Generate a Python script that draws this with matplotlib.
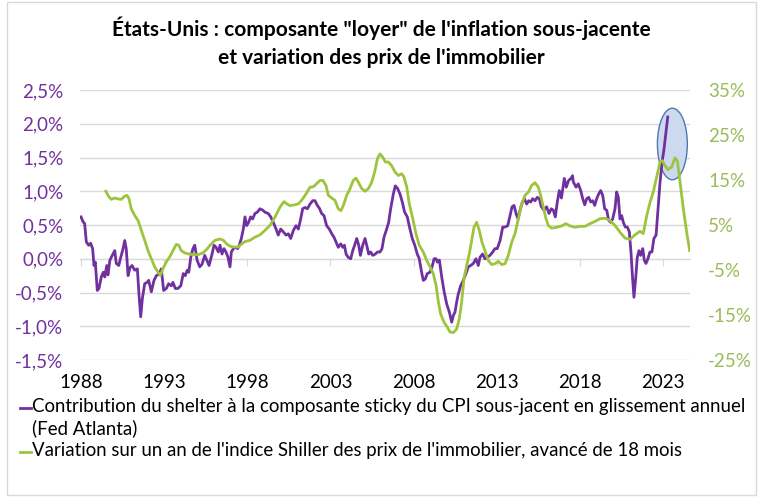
import matplotlib
matplotlib.use("Agg")
import matplotlib.pyplot as plt
from matplotlib.patches import Ellipse, Rectangle
from matplotlib.lines import Line2D
from matplotlib.ticker import FixedLocator, FixedFormatter

plt.rcParams['font.family'] = ['Lato', 'DejaVu Sans']

title = "États-Unis : composante \"loyer\" de l'inflation sous-jacente\net variation des prix de l'immobilier"
legend_labels = [
    "Contribution du shelter à la composante sticky du CPI sous-jacent en glissement annuel\n(Fed Atlanta)",
    "Variation sur un an de l'indice Shiller des prix de l'immobilier, avancé de 18 mois",
]
year_ticks = [1988, 1993, 1998, 2003, 2008, 2013, 2018, 2023]
left_ticks = [-1.5, -1.0, -0.5, 0.0, 0.5, 1.0, 1.5, 2.0, 2.5]
left_labels = ["-1,5%", "-1,0%", "-0,5%", "0,0%", "0,5%", "1,0%", "1,5%", "2,0%", "2,5%"]
right_ticks = [-25, -15, -5, 5, 15, 25, 35]
right_labels = ["-25%", "-15%", "-5%", "5%", "15%", "25%", "35%"]

# shelter contribution (% , left axis)
shelter_t = [1988.00, 1988.12, 1988.22, 1988.32, 1988.46, 1988.58, 1988.70, 1988.78, 1988.86, 1988.98,
             1989.08, 1989.22, 1989.34, 1989.43, 1989.55, 1989.62, 1989.74, 1989.88, 1990.03, 1990.12,
             1990.27, 1990.39, 1990.53, 1990.63, 1990.72, 1990.83, 1990.95, 1991.07, 1991.23, 1991.39,
             1991.49, 1991.59, 1991.69, 1991.83, 1991.97, 1992.07, 1992.23, 1992.39, 1992.53, 1992.69,
             1992.83, 1992.97, 1993.13, 1993.27, 1993.43, 1993.53, 1993.67, 1993.83, 1994.00, 1994.15,
             1994.27, 1994.39, 1994.48, 1994.60, 1994.73, 1994.84, 1994.98, 1995.14, 1995.28, 1995.44,
             1995.56, 1995.70, 1995.86, 1996.00, 1996.12, 1996.26, 1996.36, 1996.48, 1996.60, 1996.72,
             1996.84, 1996.96, 1997.04, 1997.16, 1997.30, 1997.42, 1997.52, 1997.64, 1997.76, 1997.86,
             1997.96, 1998.08, 1998.20, 1998.32, 1998.46, 1998.60, 1998.76, 1998.93, 1999.06, 1999.26,
             1999.41, 1999.56, 1999.73, 1999.86, 2000.01, 2000.16, 2000.33, 2000.47, 2000.61, 2000.77,
             2000.93, 2001.07, 2001.21, 2001.33, 2001.47, 2001.61, 2001.77, 2001.93, 2002.07, 2002.21,
             2002.33, 2002.47, 2002.61, 2002.77, 2002.93, 2003.08, 2003.21, 2003.33, 2003.47, 2003.62,
             2003.74, 2003.84, 2003.94, 2004.07, 2004.22, 2004.34, 2004.48, 2004.58, 2004.70, 2004.80,
             2004.94, 2005.08, 2005.18, 2005.30, 2005.42, 2005.54, 2005.70, 2005.82, 2005.98, 2006.10,
             2006.22, 2006.38, 2006.50, 2006.62, 2006.78, 2006.90, 2007.04, 2007.18, 2007.32, 2007.46,
             2007.62, 2007.78, 2007.92, 2008.07, 2008.22, 2008.34, 2008.46, 2008.58, 2008.70, 2008.82,
             2008.99, 2009.11, 2009.23, 2009.35, 2009.43, 2009.55, 2009.69, 2009.83, 2009.99, 2010.15,
             2010.29, 2010.39, 2010.49, 2010.59, 2010.69, 2010.83, 2010.99, 2011.15, 2011.29, 2011.43,
             2011.59, 2011.75, 2011.89, 2011.99, 2012.15, 2012.29, 2012.43, 2012.59, 2012.76, 2012.89,
             2013.03, 2013.20, 2013.36, 2013.50, 2013.66, 2013.80, 2013.92, 2014.04, 2014.16, 2014.28,
             2014.40, 2014.54, 2014.66, 2014.80, 2014.92, 2015.04, 2015.16, 2015.30, 2015.44, 2015.56,
             2015.68, 2015.84, 2016.00, 2016.14, 2016.28, 2016.40, 2016.52, 2016.64, 2016.76, 2016.89,
             2017.06, 2017.18, 2017.32, 2017.46, 2017.56, 2017.60, 2017.77, 2017.90, 2018.05, 2018.17,
             2018.29, 2018.41, 2018.53, 2018.65, 2018.77, 2018.89, 2019.01, 2019.13, 2019.25, 2019.37,
             2019.49, 2019.61, 2019.73, 2019.85, 2019.97, 2020.11, 2020.21, 2020.31, 2020.41, 2020.51,
             2020.61, 2020.73, 2020.85, 2020.97, 2021.07, 2021.17, 2021.25, 2021.35, 2021.45, 2021.55,
             2021.65, 2021.78, 2021.87, 2021.97, 2022.09, 2022.21, 2022.33, 2022.45, 2022.58, 2022.70,
             2022.82, 2022.94, 2023.06, 2023.18, 2023.28]
shelter_v = [0.62, 0.55, 0.52, 0.25, 0.20, 0.23, 0.15, -0.10, -0.05, -0.47,
             -0.44, -0.27, -0.20, -0.27, -0.10, -0.24, -0.02, 0.05, 0.12, -0.07,
             -0.10, 0.02, 0.15, 0.27, 0.15, -0.25, -0.13, -0.10, -0.17, -0.15,
             -0.54, -0.86, -0.59, -0.37, -0.35, -0.32, -0.49, -0.32, -0.25, -0.23,
             -0.15, -0.47, -0.44, -0.37, -0.40, -0.35, -0.44, -0.44, -0.40, -0.22,
             -0.25, -0.17, -0.20, 0.02, 0.15, 0.20, -0.02, -0.12, -0.08, 0.05,
             -0.02, -0.10, 0.05, 0.20, 0.17, 0.10, 0.20, 0.07, 0.15, 0.10,
             0.02, -0.12, 0.10, 0.15, 0.17, 0.15, 0.20, 0.30, 0.44, 0.62,
             0.49, 0.54, 0.62, 0.59, 0.67, 0.69, 0.74, 0.72, 0.69, 0.67,
             0.62, 0.54, 0.44, 0.35, 0.44, 0.40, 0.35, 0.37, 0.30, 0.42,
             0.49, 0.44, 0.59, 0.74, 0.76, 0.74, 0.81, 0.86, 0.86, 0.79,
             0.75, 0.67, 0.64, 0.49, 0.44, 0.37, 0.32, 0.25, 0.17, 0.22,
             0.17, 0.20, 0.07, 0.02, 0.00, 0.12, 0.22, 0.30, 0.20, 0.05,
             0.20, 0.30, 0.20, 0.07, 0.10, 0.05, 0.07, 0.10, 0.10, 0.15,
             0.32, 0.44, 0.54, 0.74, 0.96, 1.08, 1.04, 0.96, 0.84, 0.69,
             0.62, 0.44, 0.30, 0.20, 0.07, 0.00, -0.17, -0.32, -0.30, -0.22,
             -0.20, -0.12, 0.00, 0.00, -0.05, -0.02, -0.27, -0.48, -0.67, -0.79,
             -0.94, -0.84, -0.79, -0.64, -0.52, -0.40, -0.32, -0.22, -0.12, -0.10,
             -0.07, 0.00, -0.10, 0.02, 0.07, 0.00, 0.02, 0.05, 0.10, 0.15,
             0.15, 0.27, 0.47, 0.47, 0.49, 0.64, 0.77, 0.79, 0.67, 0.59,
             0.72, 0.84, 0.89, 0.81, 0.86, 0.84, 0.89, 0.86, 0.91, 0.89,
             0.77, 0.72, 0.77, 0.67, 0.74, 0.72, 0.62, 0.84, 1.01, 0.90,
             1.19, 1.06, 1.16, 1.19, 1.23, 1.14, 1.06, 1.11, 1.01, 0.89,
             0.80, 0.89, 0.91, 0.84, 0.86, 0.79, 0.89, 0.96, 1.01, 0.94,
             0.74, 0.72, 0.57, 0.54, 0.59, 0.74, 0.99, 0.91, 0.59, 0.64,
             0.54, 0.47, 0.47, 0.40, 0.10, -0.30, -0.57, -0.30, 0.02, 0.12,
             0.05, 0.15, -0.02, -0.07, 0.00, 0.10, 0.10, 0.30, 0.35, 0.74,
             1.14, 1.43, 1.63, 1.88, 2.10]

# Shiller home price index yoy, shifted 18 months (% , right axis)
shiller_t = [1989.49, 1989.67, 1989.82, 1990.03, 1990.22, 1990.42, 1990.63, 1990.77, 1990.89, 1991.02,
             1991.23, 1991.43, 1991.63, 1991.83, 1992.03, 1992.23, 1992.43, 1992.63, 1992.77, 1992.93,
             1993.13, 1993.33, 1993.53, 1993.73, 1993.88, 1994.03, 1994.24, 1994.43, 1994.73, 1995.04,
             1995.34, 1995.59, 1995.76, 1996.06, 1996.36, 1996.56, 1996.76, 1996.96, 1997.16, 1997.46,
             1997.66, 1997.86, 1998.16, 1998.46, 1998.76, 1999.06, 1999.36, 1999.67, 1999.97, 2000.21,
             2000.37, 2000.57, 2000.87, 2001.07, 2001.27, 2001.53, 2001.77, 2001.97, 2002.17, 2002.37,
             2002.55, 2002.73, 2002.87, 2003.07, 2003.27, 2003.47, 2003.63, 2003.77, 2003.98, 2004.18,
             2004.37, 2004.54, 2004.68, 2004.88, 2005.08, 2005.28, 2005.48, 2005.68, 2005.82, 2005.98,
             2006.14, 2006.30, 2006.48, 2006.68, 2006.88, 2007.08, 2007.28, 2007.42, 2007.59, 2007.74,
             2007.95, 2008.14, 2008.34, 2008.58, 2008.79, 2008.99, 2009.18, 2009.35, 2009.49, 2009.63,
             2009.83, 2010.01, 2010.19, 2010.39, 2010.59, 2010.75, 2010.89, 2011.03, 2011.19, 2011.35,
             2011.49, 2011.63, 2011.79, 2011.95, 2012.11, 2012.29, 2012.49, 2012.70, 2012.89, 2013.09,
             2013.30, 2013.50, 2013.69, 2013.90, 2014.10, 2014.30, 2014.50, 2014.70, 2014.90, 2015.10,
             2015.30, 2015.50, 2015.64, 2015.80, 2015.96, 2016.10, 2016.30, 2016.61, 2016.91, 2017.16,
             2017.40, 2017.71, 2018.01, 2018.31, 2018.61, 2018.91, 2019.21, 2019.51, 2019.81, 2020.11,
             2020.41, 2020.71, 2021.01, 2021.31, 2021.61, 2021.81, 2022.02, 2022.22, 2022.41, 2022.62,
             2022.82, 2022.96, 2023.12, 2023.29, 2023.52, 2023.72, 2023.86, 2024.02, 2024.22, 2024.42,
             2024.60]
shiller_v = [12.5, 11.3, 10.7, 11.0, 10.8, 10.7, 11.4, 11.6, 10.8, 8.6,
             7.1, 6.0, 3.8, 1.6, -0.7, -2.5, -4.3, -5.5, -6.2, -4.7,
             -3.2, -2.1, -0.7, 0.7, 0.5, -0.7, -1.2, -1.4, -1.6, -1.6,
             -1.2, -0.3, 0.5, 1.6, 1.9, 1.6, 0.8, 0.3, 0.1, 0.1,
             0.8, 1.3, 1.6, 2.3, 2.8, 3.8, 4.9, 6.8, 9.0, 10.2,
             9.7, 9.3, 9.5, 9.7, 10.5, 11.9, 13.4, 13.5, 14.2, 14.9,
             14.9, 13.8, 11.6, 11.0, 10.5, 8.6, 8.2, 9.3, 11.6, 13.1,
             14.9, 15.4, 14.5, 13.1, 12.5, 13.1, 14.5, 17.1, 19.7, 20.8,
             20.1, 19.0, 19.0, 18.2, 16.8, 16.0, 16.4, 15.7, 13.4, 9.7,
             6.4, 3.1, 0.5, -1.0, -2.9, -4.3, -5.8, -8.4, -12.1, -14.8,
             -16.6, -17.6, -18.8, -18.9, -18.1, -15.8, -12.1, -6.9, -4.0, -1.4,
             1.6, 4.5, 5.6, 3.8, 1.2, -0.7, -2.9, -3.8, -3.6, -3.1,
             -3.8, -3.6, -1.8, 1.2, 3.1, 6.4, 9.7, 11.6, 12.3, 13.8,
             14.4, 13.4, 11.6, 9.0, 6.4, 4.9, 4.3, 4.5, 4.8, 5.3,
             4.8, 4.5, 4.7, 4.7, 5.3, 5.8, 6.4, 6.5, 6.0, 4.9,
             3.4, 2.1, 1.8, 2.8, 3.6, 3.1, 7.1, 10.1, 12.3, 15.7,
             19.0, 19.3, 18.2, 17.3, 17.9, 19.9, 19.3, 14.5, 8.6, 3.4,
             -0.7]

purple = '#7030a0'
green = '#9dc43c'
green_lbl = '#9bbb59'
grid_c = '#d9d9d9'

fig = plt.figure(figsize=(7.63, 4.97), dpi=100)
ax = fig.add_axes([80 / 763, 1 - 360 / 497, 610 / 763, 270 / 497])
ax2 = ax.twinx()

ax.set_xlim(1987.94, 2024.62)
ax.set_ylim(-1.5, 2.5)
ax2.set_ylim(-25, 35)

ax.yaxis.set_major_locator(FixedLocator(left_ticks))
ax.yaxis.set_major_formatter(FixedFormatter(left_labels))
ax2.yaxis.set_major_locator(FixedLocator(right_ticks))
ax2.yaxis.set_major_formatter(FixedFormatter(right_labels))
ax.grid(axis='y', color=grid_c, lw=1)
ax.set_axisbelow(True)

for a in (ax, ax2):
    for s in ('top', 'left', 'right'):
        a.spines[s].set_visible(False)
ax2.spines['bottom'].set_visible(False)

# zero line carries the tick marks, year labels sit at the bottom
ax.spines['bottom'].set_position(('data', 0))
ax.spines['bottom'].set_color(grid_c)
ax.set_xticks(year_ticks)
ax.tick_params(axis='x', direction='out', length=5, color=grid_c, labelbottom=False)
ax.tick_params(axis='y', length=0, pad=12, labelsize=13.5, labelcolor=purple)
ax2.tick_params(axis='y', length=0, pad=13, labelsize=13.5, labelcolor=green_lbl)

sec = ax.secondary_xaxis('bottom')
sec.set_xticks(year_ticks)
sec.set_xticklabels([str(y) for y in year_ticks])
sec.spines['bottom'].set_visible(False)
sec.tick_params(length=0, pad=10, labelsize=13.5, labelcolor='black')

ax.add_patch(Ellipse((2023.56, 1.70), 1.80, 1.06, facecolor='#cdd9ef',
                     edgecolor='#4f77b0', lw=1, zorder=2))
ax.plot(shelter_t, shelter_v, color=purple, lw=2.0, zorder=3)
ax2.plot(shiller_t, shiller_v, color=green, lw=2.0, zorder=3)

fig.text(0.5, 1 - 42 / 497, title, ha='center', va='center', fontsize=15,
         fontweight='bold', linespacing=1.5)

rows = [408, 452]
colors = [purple, green]
for lab, r, c in zip(legend_labels, rows, colors):
    yf = 1 - r / 497
    fig.add_artist(Line2D([20 / 763, 31 / 763], [yf, yf], color=c, lw=2))
    fig.text(32 / 763, yf + 10 / 497, lab, ha='left', va='top', fontsize=13.4,
             linespacing=1.3)

fig.add_artist(Rectangle((7 / 763, 2 / 497), 749 / 763, 493 / 497, fill=False,
                         edgecolor=grid_c, lw=1, transform=fig.transFigure))

fig.savefig('out.png', dpi=100)
